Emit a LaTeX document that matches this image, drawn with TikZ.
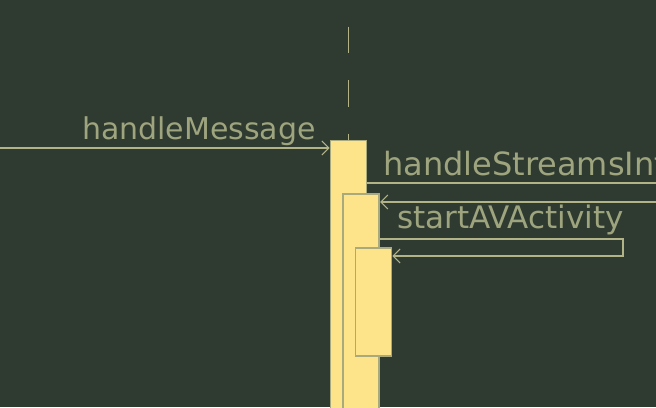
\documentclass[tikz,border=0pt]{standalone}
\usepackage{fontspec}
\setmainfont{DejaVu Sans}
\usepackage{xcolor}
\usetikzlibrary{arrows.meta, positioning}
\definecolor{bg}{RGB}{47,59,49}
\definecolor{lane}{RGB}{178,180,136}
\definecolor{rim}{RGB}{168,170,126}
\definecolor{bar}{RGB}{253,228,139}
\definecolor{lbl}{RGB}{158,164,125}

\begin{document}
\begin{tikzpicture}[x=1pt, y=-1pt, every node/.style={font=\fontsize{30}{36}\selectfont, text=lbl, inner sep=0pt},
    act/.style={draw=rim, fill=bar, line width=1.8pt, minimum width=36pt, anchor=north},
    msg/.style={draw=lane, line width=1.4pt, -{Straight Barb[length=7pt,width=14pt,line width=1pt]}}]
    \useasboundingbox (0,0) rectangle (656,407);
    \fill[bg] (0,0) rectangle (656,407);
    \clip (0,0) rectangle (656,407);
    \node[act, minimum height=290pt] (act1) at (348.5,139.5) {};
    \node[act, minimum height=240pt] (act2) at (361.25,193) {};
    \node[act, minimum height=108pt] (act3) at (373.5,247) {};
    \coordinate (life) at (348.5,0);
    \coordinate (caller) at (0,148);
    \coordinate (out1) at (700,183);
    \coordinate (in1) at (700,202);
    \coordinate (out2) at (623,239);
    \coordinate (in2) at (623,256);
    \draw[lane, line width=1.4pt, dash pattern=on 26.7pt off 26.7pt, dash phase=26.7pt] (life) -- (act1.north);
    \node[anchor=base east] (lblmsg) at (316,139) {handleMessage};
    \node[anchor=base west, font=\fontsize{32}{38}\selectfont] (lblinfo) at (383,175) {handleStreamsInfo};
    \node[anchor=base west, font=\fontsize{31}{37}\selectfont] (lblav) at (397,228) {startAVActivity};
    \draw[msg] (caller) -- (caller -| act1.west);
    \draw[msg] (act1.east |- out1) -- (out1) -- (in1) -- (in1 -| act2.east);
    \draw[msg] (act2.east |- out2) -- (out2) -- (in2) -- (in2 -| act3.east);
\end{tikzpicture}
\end{document}
